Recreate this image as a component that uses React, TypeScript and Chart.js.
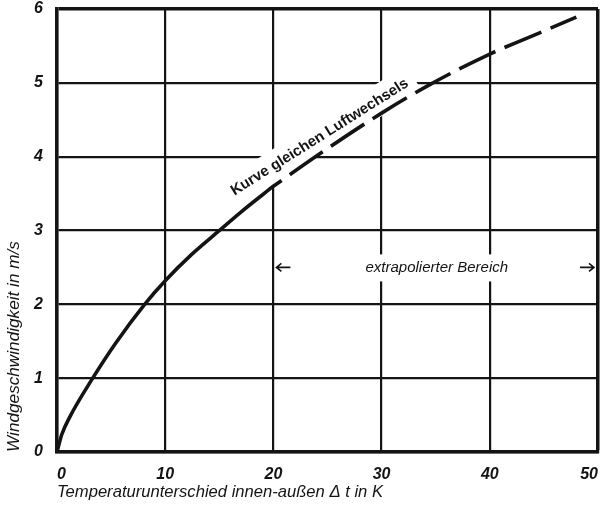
import React, { useEffect, useRef } from 'react';
import { Chart, registerables } from 'chart.js';

Chart.register(...registerables);

// ---- data ----
const measuredDeltaT = [0, 0.45, 1.2, 3.3, 5.4, 8.1, 10, 12.4, 14.85, 17, 20];
const measuredWind = [0, 0.24, 0.48, 1, 1.47, 2, 2.32, 2.67, 2.98, 3.25, 3.6];
const extrapolatedDeltaT = [20, 25, 30, 34.5, 40, 44, 48];
const extrapolatedWind = [3.6, 4.11, 4.59, 4.98, 5.39, 5.64, 5.89];

const xTickValues = [0, 10, 20, 30, 40, 50];
const yTickValues = [0, 1, 2, 3, 4, 5, 6];

const xTitle = 'Temperaturunterschied innen-außen Δ t in K';
const yTitle = 'Windgeschwindigkeit in m/s';
const curveLabel = 'Kurve gleichen Luftwechsels';
const rangeLabel = 'extrapolierter Bereich';

// annotation anchors (data units)
const curveLabelAt = { x: 16.4, y: 3.47, angleDeg: 32.2 };
const rangeAt = { from: 20, to: 50, y: 2.5, textX: 35.1 };

const INK = '#141414';
const FAMILY = "'Liberation Sans', Arial, Helvetica, sans-serif";

const toPoints = (xs: number[], ys: number[]) => xs.map((x, i) => ({ x, y: ys[i] }));

const annotationPlugin = {
  id: 'curveAnnotations',
  beforeDatasetsDraw(chart: any) {
    const { ctx, scales } = chart;
    const x = scales.x;
    const y = scales.y;
    ctx.save();
    ctx.font = `bold 15px ${FAMILY}`;
    const w = ctx.measureText(curveLabel).width;
    ctx.translate(x.getPixelForValue(curveLabelAt.x), y.getPixelForValue(curveLabelAt.y));
    ctx.rotate((-curveLabelAt.angleDeg * Math.PI) / 180);
    ctx.fillStyle = '#ffffff';
    ctx.fillRect(-4, -19, w + 12, 30);
    ctx.restore();

    ctx.save();
    const py = y.getPixelForValue(rangeAt.y);
    const left = x.getPixelForValue(rangeAt.from) + 18;
    const right = x.getPixelForValue(rangeAt.to) - 18;
    ctx.fillStyle = '#ffffff';
    ctx.fillRect(left, py - 13, right - left, 27);
    ctx.restore();
  },
  afterDatasetsDraw(chart: any) {
    const { ctx, scales } = chart;
    const x = scales.x;
    const y = scales.y;
    ctx.save();
    ctx.fillStyle = INK;
    ctx.font = `bold 15px ${FAMILY}`;
    ctx.textAlign = 'left';
    ctx.textBaseline = 'alphabetic';
    ctx.translate(x.getPixelForValue(curveLabelAt.x), y.getPixelForValue(curveLabelAt.y));
    ctx.rotate((-curveLabelAt.angleDeg * Math.PI) / 180);
    ctx.fillText(curveLabel, 0, 0);
    ctx.restore();

    ctx.save();
    const py = y.getPixelForValue(rangeAt.y);
    ctx.fillStyle = INK;
    ctx.font = `italic 15px ${FAMILY}`;
    ctx.textAlign = 'center';
    ctx.textBaseline = 'middle';
    ctx.fillText(rangeLabel, x.getPixelForValue(rangeAt.textX), py);

    ctx.strokeStyle = INK;
    ctx.lineWidth = 1.6;
    const lx = x.getPixelForValue(rangeAt.from) + 3;
    const rx = x.getPixelForValue(rangeAt.to) - 4;
    ctx.beginPath();
    ctx.moveTo(lx, py);
    ctx.lineTo(lx + 14, py);
    ctx.moveTo(lx + 5, py - 4);
    ctx.lineTo(lx, py);
    ctx.lineTo(lx + 5, py + 4);
    ctx.moveTo(rx, py);
    ctx.lineTo(rx - 14, py);
    ctx.moveTo(rx - 5, py - 4);
    ctx.lineTo(rx, py);
    ctx.lineTo(rx - 5, py + 4);
    ctx.stroke();
    ctx.restore();
  },
};

const zeroPadding = (s: any) => {
  s.paddingTop = 0;
  s.paddingBottom = 0;
  s.paddingLeft = 0;
  s.paddingRight = 0;
};

export default function App() {
  const canvasRef = useRef<HTMLCanvasElement | null>(null);

  useEffect(() => {
    if (!canvasRef.current) return;
    const tickFont = { family: FAMILY, size: 16, weight: 'bold' as const, style: 'italic' as const };

    const chart = new Chart(canvasRef.current, {
      type: 'line',
      data: {
        datasets: [
          {
            label: 'gemessen',
            data: toPoints(measuredDeltaT, measuredWind),
            borderColor: INK,
            borderWidth: 3.6,
            pointRadius: 0,
            cubicInterpolationMode: 'monotone',
            fill: false,
          },
          {
            label: 'extrapoliert',
            data: toPoints(extrapolatedDeltaT, extrapolatedWind),
            borderColor: INK,
            borderWidth: 3.6,
            borderDash: [40, 10],
            borderDashOffset: 30,
            pointRadius: 0,
            cubicInterpolationMode: 'monotone',
            fill: false,
          },
        ],
      },
      options: {
        animation: false,
        responsive: true,
        maintainAspectRatio: false,
        devicePixelRatio: 1,
        layout: { padding: { top: 9, right: 3, left: 0, bottom: 0 }, autoPadding: false },
        plugins: { legend: { display: false }, tooltip: { enabled: false } },
        scales: {
          x: {
            type: 'linear',
            min: xTickValues[0],
            max: xTickValues[xTickValues.length - 1],
            afterFit: (s: any) => {
              s.height = 54;
              zeroPadding(s);
            },
            afterBuildTicks: (s: any) => {
              s.ticks = xTickValues.map((v) => ({ value: v }));
            },
            ticks: {
              autoSkip: false,
              maxRotation: 0,
              align: 'inner',
              padding: 13,
              color: INK,
              font: tickFont,
              callback: (v: any) => String(v),
            },
            grid: {
              color: INK,
              lineWidth: (c: any) => (c.tick && c.tick.value === 50 ? 3.5 : 2.2),
              drawTicks: false,
            },
            border: { display: true, color: INK, width: 3.5 },
            title: {
              display: true,
              text: xTitle,
              align: 'start',
              color: INK,
              font: { family: FAMILY, size: 16.6, weight: 'normal', style: 'italic' },
              padding: { top: 0, bottom: 4 },
            },
          },
          y: {
            type: 'linear',
            min: yTickValues[0],
            max: yTickValues[yTickValues.length - 1],
            afterFit: (s: any) => {
              s.width = 57;
              zeroPadding(s);
            },
            afterBuildTicks: (s: any) => {
              s.ticks = yTickValues.map((v) => ({ value: v }));
            },
            ticks: {
              autoSkip: false,
              padding: 14,
              color: INK,
              font: tickFont,
              callback: (v: any) => String(v),
            },
            grid: {
              color: INK,
              lineWidth: (c: any) => (c.tick && c.tick.value === 6 ? 3.5 : 2.2),
              drawTicks: false,
            },
            border: { display: true, color: INK, width: 3.5 },
            title: {
              display: true,
              text: yTitle,
              align: 'start',
              color: INK,
              font: { family: FAMILY, size: 17.2, weight: 'normal', style: 'italic' },
              padding: { top: 4, bottom: 0 },
            },
          },
        },
      },
      plugins: [annotationPlugin],
    } as any);

    return () => chart.destroy();
  }, []);

  return (
    <div style={{ position: 'fixed', left: 0, top: 0, width: 601, height: 506, background: '#fff' }}>
      <canvas ref={canvasRef} />
    </div>
  );
}
